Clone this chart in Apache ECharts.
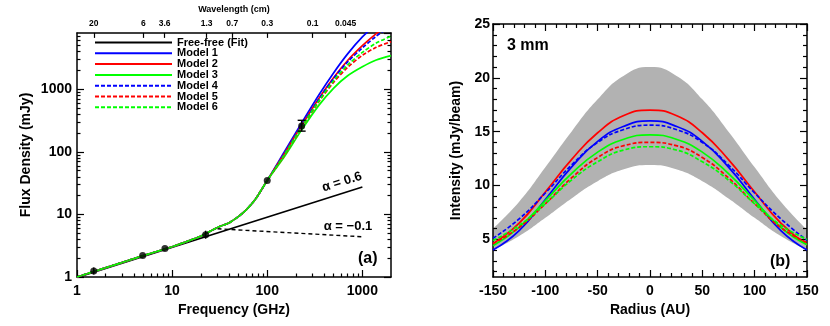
<!DOCTYPE html>
<html><head><meta charset="utf-8">
<script src="https://cdn.jsdelivr.net/npm/echarts@6/dist/echarts.min.js"></script>
<style>html,body{margin:0;padding:0;background:#fff}#c{width:830px;height:326px}</style>
</head><body><div id="c"></div>
<script>
// ---------- Panel (a): SED ----------
const freqNodes   = [1, 5, 10, 15, 20, 30, 40, 50, 60, 75, 100];
const sharedLow   = [1.0, 2.2, 3.05, 3.8, 4.5, 6.2, 7.4, 9.3, 11.8, 17.5, 35];
const freqHigh    = [150, 230, 350, 500, 700, 1000, 1400, 2000];
const model1Hi = [98, 290, 820, 1850, 3700, 6900, 11000, 17000];
const model2Hi = [92, 265, 720, 1550, 2900, 5000, 7800, 11500];
const model3Hi = [82, 225, 560, 1050, 1650, 2300, 2950, 3470];
const model4Hi = [90, 258, 700, 1500, 2750, 4600, 7100, 10500];
const model5Hi = [86, 245, 640, 1300, 2250, 3500, 4700, 5800];
const model6Hi = [88, 250, 660, 1380, 2450, 3900, 5500, 7100];
const fitThickFreq = [1, 1000];
const fitThickFlux = [0.98, 27.5];
const fitThinFreq  = [30, 1000];
const fitThinFlux  = [5.9, 4.4];
const pointFreq  = [1.5, 4.9, 8.4, 22.5, 100, 230];
const pointFlux  = [1.25, 2.2, 2.85, 4.75, 35, 260];
const pointErrLo = [1.1, 2.2, 2.85, 4.1, 35, 215];
const pointErrHi = [1.42, 2.2, 2.85, 5.5, 35, 320];
const pointCap   = [0, 0, 0, 0, 0, 1];
const minorFreqTicks = [2,3,4,5,6,7,8,9,20,30,40,50,60,70,80,90,200,300,400,500,600,700,800,900];
const minorFluxTicks = [2,3,4,5,6,7,8,9,20,30,40,50,60,70,80,90,200,300,400,500,600,700,800,900,2000,3000,4000,5000,6000,7000];
const wavelengthLabels = ['20','6','3.6','1.3','0.7','0.3','0.1','0.045'];
const freqMax = 2000, fluxMin = 1, fluxMax = 8000;

// ---------- Panel (b): radial profile at 3 mm ----------
const radiusNodes = [-150,-125,-100,-75,-50,-25,0,25,50,75,100,125,150];
const bandUpper = [6.0, 8.5, 11.7, 15.0, 18.0, 20.2, 21.0, 20.2, 18.0, 15.0, 11.7, 8.5, 5.9];
const bandLower = [4.0, 5.3, 7.0, 8.8, 10.4, 11.5, 11.9, 11.5, 10.4, 8.8, 7.0, 5.3, 4.0];
const model1R = [4.0, 5.8, 8.7, 11.7, 14.1, 15.5, 16.0, 15.5, 14.1, 11.7, 8.7, 5.8, 4.0];
const model2R = [4.6, 6.5, 9.4, 12.4, 14.9, 16.5, 17.0, 16.5, 14.9, 12.4, 9.4, 6.5, 4.5];
const model3R = [4.4, 6.1, 8.6, 11.1, 13.1, 14.3, 14.7, 14.3, 13.1, 11.1, 8.6, 6.1, 4.5];
const model4R = [5.1, 6.9, 9.3, 11.9, 14.0, 15.2, 15.6, 15.2, 14.0, 11.9, 9.3, 6.9, 4.9];
const model5R = [4.6, 6.1, 8.3, 10.7, 12.6, 13.7, 14.0, 13.7, 12.6, 10.7, 8.3, 6.1, 4.7];
const model6R = [4.9, 6.3, 8.3, 10.5, 12.2, 13.3, 13.6, 13.3, 12.2, 10.5, 8.3, 6.3, 5.0];
const intensityTicks = [5, 10, 15, 20, 25];
const intensityMinor = [2,3,4,6,7,8,9,11,12,13,14,16,17,18,19,21,22,23,24];

const names = ['Model 1','Model 2','Model 3','Model 4','Model 5','Model 6'];
const colors = ['#0000ff','#ff0000','#00ff00','#0000ff','#ff0000','#00ff00'];
const dashed = [false,false,false,true,true,true];

const FONT = '"Liberation Sans", Arial, Helvetica, sans-serif';
const lg = Math.log10;
const axLine = {show: true, onZero: false, lineStyle: {color: '#000', width: 1.5}};
const noLine = {show: false, onZero: false};
const tk = (len, vals) => {
  const o = {show: true, inside: true, length: len, lineStyle: {color: '#000', width: 1.2}};
  if (vals) o.customValues = vals;
  return o;
};
const lbl = (size, margin, extra) => Object.assign({color: '#000', fontFamily: FONT, fontWeight: 'bold', fontSize: size, margin: margin}, extra || {});
const nameStyle = (size) => ({color: '#000', fontFamily: FONT, fontWeight: 'bold', fontSize: size});
const noSplit = {show: false};
const plainNum = v => String(v);

const wlPos = wavelengthLabels.map(w => lg(30 / parseFloat(w)));
const sharedPairs = freqNodes.map((f, i) => [f, sharedLow[i]]);
const hiArrays = [model1Hi, model2Hi, model3Hi, model4Hi, model5Hi, model6Hi];
const rArrays = [model1R, model2R, model3R, model4R, model5R, model6R];

const series = [];
series.push({name: 'Free-free (Fit)', type: 'line', xAxisIndex: 0, yAxisIndex: 0, symbol: 'none',
  data: fitThickFreq.map((f, i) => [f, fitThickFlux[i]]), lineStyle: {color: '#000', width: 1.6}, itemStyle: {color: '#000'}, z: 3});
series.push({name: 'ffthin', type: 'line', xAxisIndex: 0, yAxisIndex: 0, symbol: 'none',
  data: fitThinFreq.map((f, i) => [f, fitThinFlux[i]]), lineStyle: {color: '#000', width: 1.4, type: [4, 3]}, z: 3});
for (let k = 0; k < 6; k++) {
  series.push({name: names[k], type: 'line', xAxisIndex: 0, yAxisIndex: 0, symbol: 'none', smooth: 0.3,
    data: sharedPairs.concat(freqHigh.map((f, i) => [f, hiArrays[k][i]])),
    lineStyle: {color: colors[k], width: 1.7, type: dashed[k] ? [4, 2] : 'solid'}, itemStyle: {color: colors[k]}, z: 4});
}
series.push({name: 'points', type: 'scatter', xAxisIndex: 0, yAxisIndex: 0, symbol: 'circle', symbolSize: 7,
  data: pointFreq.map((f, i) => [f, pointFlux[i]]), itemStyle: {color: '#000'}, z: 6});
series.push({name: 'errors', type: 'custom', xAxisIndex: 0, yAxisIndex: 0, z: 6,
  data: pointFreq.map((f, i) => [f, pointErrLo[i], pointErrHi[i], pointCap[i]]),
  renderItem: function (params, api) {
    const x = api.value(0);
    const a = api.coord([x, api.value(1)]), b = api.coord([x, api.value(2)]);
    const st = {stroke: '#000', lineWidth: 1.4};
    const ch = [{type: 'line', shape: {x1: a[0], y1: a[1], x2: b[0], y2: b[1]}, style: st}];
    if (api.value(3)) {
      ch.push({type: 'line', shape: {x1: b[0] - 4, y1: b[1], x2: b[0] + 4, y2: b[1]}, style: st});
      ch.push({type: 'line', shape: {x1: a[0] - 4, y1: a[1], x2: a[0] + 4, y2: a[1]}, style: st});
    }
    return {type: 'group', children: ch};
  }});

// panel b: grey uncertainty band = grey area under upper edge, white area under lower edge
series.push({name: 'bandHigh', type: 'line', xAxisIndex: 3, yAxisIndex: 4, symbol: 'none', smooth: true,
  data: radiusNodes.map((r, i) => [r, bandUpper[i]]), lineStyle: {width: 0, opacity: 0},
  areaStyle: {color: '#b2b2b2', opacity: 1, origin: 'start'}, z: -3, silent: true});
series.push({name: 'bandLow', type: 'line', xAxisIndex: 3, yAxisIndex: 4, symbol: 'none', smooth: true,
  data: radiusNodes.map((r, i) => [r, bandLower[i]]), lineStyle: {width: 0, opacity: 0},
  areaStyle: {color: '#ffffff', opacity: 1, origin: 'start'}, z: -2, silent: true});
for (let k = 0; k < 6; k++) {
  series.push({name: names[k], type: 'line', xAxisIndex: 3, yAxisIndex: 4, symbol: 'none', smooth: true,
    data: radiusNodes.map((r, i) => [r, rArrays[k][i]]),
    lineStyle: {color: colors[k], width: 1.7, type: dashed[k] ? [4, 2] : 'solid'}, itemStyle: {color: colors[k]}, z: 4});
}

const option = {
  animation: false,
  backgroundColor: '#fff',
  grid: [
    {left: 77, top: 24, width: 314, height: 253, containLabel: false},
    {left: 493, top: 24, width: 314, height: 253, containLabel: false}
  ],
  legend: {
    data: ['Free-free (Fit)'].concat(names), orient: 'vertical', left: 94, top: 37, padding: 0,
    itemWidth: 77, itemHeight: 10, itemGap: -0.2, selectedMode: false,
    itemStyle: {opacity: 0},
    textStyle: {color: '#000', fontFamily: FONT, fontWeight: 'bold', fontSize: 11, lineHeight: 10}
  },
  xAxis: [
    {gridIndex: 0, type: 'log', min: 1, max: freqMax, position: 'bottom', axisLine: axLine, axisTick: tk(7),
      axisLabel: lbl(14, 7, {showMaxLabel: false, formatter: plainNum}), splitLine: noSplit,
      name: 'Frequency (GHz)', nameLocation: 'middle', nameGap: 23, nameTextStyle: nameStyle(14)},
    {gridIndex: 0, type: 'value', min: 0, max: lg(freqMax), position: 'bottom', axisLine: noLine,
      axisTick: tk(3.5, minorFreqTicks.map(lg)), axisLabel: {show: false}, splitLine: noSplit},
    {gridIndex: 0, type: 'value', min: 0, max: lg(freqMax), position: 'top', axisLine: axLine,
      axisTick: tk(5, wlPos), splitLine: noSplit,
      axisLabel: lbl(8.5, 5, {customValues: wlPos, formatter: function (v) {
        let best = 0, d = 1e9;
        wlPos.forEach((p, i) => { if (Math.abs(p - v) < d) { d = Math.abs(p - v); best = i; } });
        return wavelengthLabels[best];
      }}),
      name: 'Wavelength (cm)', nameLocation: 'middle', nameGap: 11, nameTextStyle: nameStyle(9)},
    {gridIndex: 1, type: 'value', min: -150, max: 150, interval: 50, position: 'bottom', axisLine: axLine,
      axisTick: tk(7), minorTick: {show: true, splitNumber: 5, length: 4, lineStyle: {color: '#000', width: 1.2}},
      axisLabel: lbl(14, 7), splitLine: noSplit,
      name: 'Radius (AU)', nameLocation: 'middle', nameGap: 22, nameTextStyle: nameStyle(14)},
    {gridIndex: 1, type: 'value', min: -150, max: 150, interval: 50, position: 'top', axisLine: axLine,
      axisTick: tk(7), minorTick: {show: true, splitNumber: 5, length: 4, lineStyle: {color: '#000', width: 1.2}},
      axisLabel: {show: false}, splitLine: noSplit}
  ],
  yAxis: [
    {gridIndex: 0, type: 'log', min: fluxMin, max: fluxMax, position: 'left', axisLine: axLine, axisTick: tk(7),
      axisLabel: lbl(14, 5, {showMaxLabel: false, formatter: plainNum}), splitLine: noSplit,
      name: 'Flux Density (mJy)', nameLocation: 'middle', nameGap: 44, nameRotate: 90, nameTextStyle: nameStyle(14)},
    {gridIndex: 0, type: 'value', min: 0, max: lg(fluxMax), position: 'left', axisLine: noLine,
      axisTick: tk(3.5, minorFluxTicks.map(lg)), axisLabel: {show: false}, splitLine: noSplit},
    {gridIndex: 0, type: 'log', min: fluxMin, max: fluxMax, position: 'right', axisLine: axLine, axisTick: tk(7),
      axisLabel: {show: false}, splitLine: noSplit},
    {gridIndex: 0, type: 'value', min: 0, max: lg(fluxMax), position: 'right', axisLine: noLine,
      axisTick: tk(3.5, minorFluxTicks.map(lg)), axisLabel: {show: false}, splitLine: noSplit},
    {gridIndex: 1, type: 'value', min: 1.5, max: 25, position: 'left', axisLine: axLine,
      axisTick: tk(7, intensityTicks), axisLabel: lbl(14, 3, {customValues: intensityTicks}), splitLine: noSplit,
      name: 'Intensity (mJy/beam)', nameLocation: 'middle', nameGap: 30, nameRotate: 90, nameTextStyle: nameStyle(14)},
    {gridIndex: 1, type: 'value', min: 1.5, max: 25, position: 'left', axisLine: noLine,
      axisTick: tk(4, intensityMinor), axisLabel: {show: false}, splitLine: noSplit},
    {gridIndex: 1, type: 'value', min: 1.5, max: 25, position: 'right', axisLine: axLine,
      axisTick: tk(7, intensityTicks), axisLabel: {show: false}, splitLine: noSplit},
    {gridIndex: 1, type: 'value', min: 1.5, max: 25, position: 'right', axisLine: noLine,
      axisTick: tk(4, intensityMinor), axisLabel: {show: false}, splitLine: noSplit}
  ],
  graphic: [
    {type: 'text', left: 358, top: 251, style: {text: '(a)', fill: '#000', font: 'bold 16px ' + FONT}},
    {type: 'text', left: 770, top: 254, style: {text: '(b)', fill: '#000', font: 'bold 16px ' + FONT}},
    {type: 'text', left: 507, top: 38, style: {text: '3 mm', fill: '#000', font: 'bold 16px ' + FONT}},
    {type: 'text', x: 342, y: 182, rotation: 0.30, style: {text: 'α = 0.6', fill: '#000', font: 'bold 13px ' + FONT, align: 'center', verticalAlign: 'middle'}},
    {type: 'text', x: 348, y: 226, style: {text: 'α = −0.1', fill: '#000', font: 'bold 13px ' + FONT, align: 'center', verticalAlign: 'middle'}}
  ],
  series: series
};
const chart = echarts.init(document.getElementById('c'));
chart.setOption(option);
</script></body></html>
